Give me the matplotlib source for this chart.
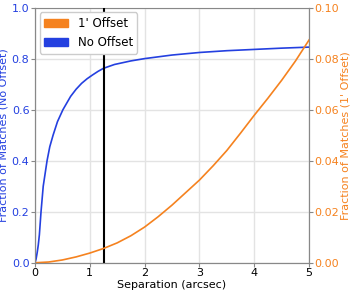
import numpy as np
import matplotlib
matplotlib.use("Agg")
import matplotlib.pyplot as plt
from matplotlib.patches import Patch

# Cumulative fraction of matches vs separation
sep_no = [0, 0.02, 0.04, 0.06, 0.08, 0.11, 0.15, 0.22, 0.27, 0.33, 0.41, 0.51, 0.65,
          0.75, 0.85, 0.95, 1.05, 1.15, 1.25, 1.45, 1.75, 2.0, 2.5, 3.0, 3.5, 4.0, 4.5, 5.0]
frac_no = [0, 0.015, 0.04, 0.07, 0.11, 0.2, 0.3, 0.4, 0.455, 0.5, 0.553, 0.6, 0.652,
           0.68, 0.703, 0.721, 0.736, 0.75, 0.762, 0.777, 0.791, 0.8, 0.814, 0.824, 0.831, 0.836, 0.841, 0.845]

sep_off = [0, 0.25, 0.5, 0.75, 1.0, 1.25, 1.5, 1.75, 2.0, 2.25, 2.5, 2.75, 3.0,
           3.25, 3.5, 3.75, 4.0, 4.25, 4.5, 4.75, 5.0]
frac_off = [0, 0.0003, 0.0011, 0.0023, 0.0038, 0.0056, 0.0078, 0.0106, 0.0140, 0.0181,
            0.0226, 0.0275, 0.0324, 0.0380, 0.0440, 0.0508, 0.0578, 0.0645, 0.0715, 0.0790, 0.0873]

cut = 1.25

BLUE = '#2440e0'
ORANGE = '#f5821f'
GRAY = '#888888'

fig = plt.figure(figsize=(3.5, 2.91), dpi=100)
ax1 = fig.add_axes([0.1, 0.097, 0.783, 0.877])
ax2 = ax1.twinx()

ax1.plot(sep_no, frac_no, color=BLUE, lw=1.2, zorder=3)
ax2.plot(sep_off, frac_off, color=ORANGE, lw=1.2)
ax1.axvline(cut, color='black', lw=1.5, zorder=4)

ax1.set_xlim(0, 5)
ax1.set_ylim(0, 1.0)
ax2.set_ylim(0, 0.1)
ax1.set_yticks(np.arange(0, 1.01, 0.2))
ax2.set_yticks(np.arange(0, 0.101, 0.02))
ax2.set_yticklabels([f'{v:.2f}' for v in np.arange(0, 0.101, 0.02)])

ax1.grid(True, color='#e3e3e3', lw=1)
ax1.set_axisbelow(True)

fs = 8
ax1.set_xlabel('Separation (arcsec)', fontsize=fs, labelpad=1)
ax1.set_ylabel('Fraction of Matches (No Offset)', color=BLUE, fontsize=fs, labelpad=2)
ax2.set_ylabel("Fraction of Matches (1' Offset)", color=ORANGE, fontsize=fs, labelpad=1)
ax1.tick_params(axis='x', labelsize=fs, color=GRAY, length=3, pad=1)
ax1.tick_params(axis='y', labelsize=fs, labelcolor=BLUE, color=GRAY, length=3, pad=1)
ax2.tick_params(axis='y', labelsize=fs, labelcolor=ORANGE, color=GRAY, length=3, pad=1)

for ax in (ax1, ax2):
    for s in ax.spines.values():
        s.set_color(GRAY)
ax2.spines['top'].set_visible(False)

handles = [Patch(color=ORANGE, label="1' Offset"), Patch(color=BLUE, label='No Offset')]
ax2.legend(handles=handles, loc='upper left', fontsize=8.5, framealpha=1,
           handlelength=2.0, borderaxespad=0.4)

fig.savefig('out.png', dpi=100)
